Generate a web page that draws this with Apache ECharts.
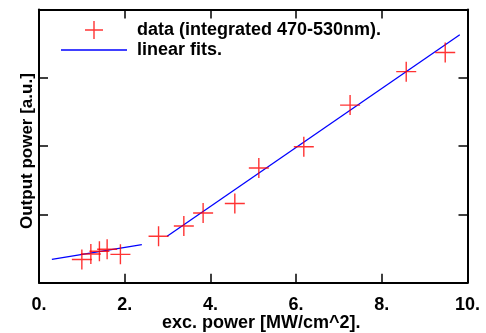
<!DOCTYPE html>
<html><head><meta charset="utf-8">
<script src="https://cdn.jsdelivr.net/npm/echarts@6/dist/echarts.min.js"></script>
<style>html,body{margin:0;padding:0;background:#fff}#c{width:486px;height:333px}</style>
</head><body><div id="c"></div>
<script>
var dataX = [1.00, 1.21, 1.41, 1.59, 1.90, 2.79, 3.38, 3.83, 4.57, 5.13, 6.18, 7.26, 8.57, 9.48];
var dataY = [0.34, 0.42, 0.46, 0.49, 0.415, 0.68, 0.83, 1.02, 1.16, 1.68, 1.99, 2.60, 3.09, 3.37];
var fitX1 = [0.30, 2.40];
var fitY1 = [0.34, 0.556];
var fitX2 = [2.99, 9.82];
var fitY2 = [0.68, 3.63];
var xTicks = [0, 2, 4, 6, 8, 10];
var dataName = 'data (integrated 470-530nm).';
var fitName = 'linear fits.';

var FONT = '"Liberation Sans", Arial, sans-serif';
var PLUS = 'path://M0,9.3H20V10.7H0Z M9.3,0H10.7V20H9.3Z';
var PLUSICON = 'path://M0,0H0.01V0.01H0Z M24,8.3H42V9.7H24Z M32.3,0H33.7V18H32.3Z M65.99,17.99H66V18H65.99Z';
var LINEICON = 'path://M0,0H66V1.4H0Z';
function pairs(xs, ys){ return xs.map(function(x,i){ return [x, ys[i]]; }); }

var chart = echarts.init(document.getElementById('c'), null, {renderer:'canvas'});
var tickStyle = {show:true, inside:true, length:9, lineStyle:{color:'#000', width:1.5}};
var lineStyle = {show:true, onZero:false, lineStyle:{color:'#000', width:2}};
chart.setOption({
  animation:false,
  backgroundColor:'#fff',
  grid:{left:39, right:18.5, top:9.5, bottom:50.3, show:false, containLabel:false, outerBoundsMode:'none'},
  legend:{
    orient:'vertical', left:56, top:16, padding:5, itemWidth:66, itemHeight:18, itemGap:2,
    textStyle:{fontFamily:FONT, fontSize:18, fontWeight:'bold', color:'#000', padding:[0,0,0,5]},
    data:[{name:dataName, icon:PLUSICON}, {name:fitName, icon:LINEICON}]
  },
  xAxis:[{
    type:'value', min:0, max:10, interval:2, position:'bottom',
    axisLine:lineStyle, axisTick:tickStyle, splitLine:{show:false},
    axisLabel:{formatter:function(v){return v+'.';}, margin:13, color:'#000', fontFamily:FONT, fontSize:18, fontWeight:'bold'},
    name:'exc. power [MW/cm^2].', nameLocation:'middle', nameGap:31, nameMoveOverlap:false,
    nameTextStyle:{fontFamily:FONT, fontSize:18, fontWeight:'bold', color:'#000', padding:[0,0,0,16]}
  },{
    type:'value', min:0, max:10, interval:2, position:'top',
    axisLine:lineStyle, axisTick:tickStyle, axisLabel:{show:false}, splitLine:{show:false}
  }],
  yAxis:[{
    type:'value', min:0, max:4, interval:1, position:'left',
    axisLine:lineStyle, axisTick:tickStyle, axisLabel:{show:false}, splitLine:{show:false},
    name:'Output power [a.u.]', nameLocation:'middle', nameGap:3,
    nameTextStyle:{fontFamily:FONT, fontSize:17, fontWeight:'bold', color:'#000', padding:[0,10,0,0]}
  },{
    type:'value', min:0, max:4, interval:1, position:'right',
    axisLine:lineStyle, axisTick:tickStyle, axisLabel:{show:false}, splitLine:{show:false}
  }],
  series:[{
    name:dataName, type:'scatter', symbol:PLUS, symbolSize:20,
    itemStyle:{color:'#ff0000'}, data:pairs(dataX, dataY), z:3
  },{
    name:fitName, type:'line', symbol:'none', lineStyle:{color:'#0000ff', width:1.3},
    itemStyle:{color:'#0000ff'}, data:pairs(fitX1, fitY1)
  },{
    name:fitName, type:'line', symbol:'none', lineStyle:{color:'#0000ff', width:1.3},
    itemStyle:{color:'#0000ff'}, data:pairs(fitX2, fitY2)
  }]
});
</script></body></html>
